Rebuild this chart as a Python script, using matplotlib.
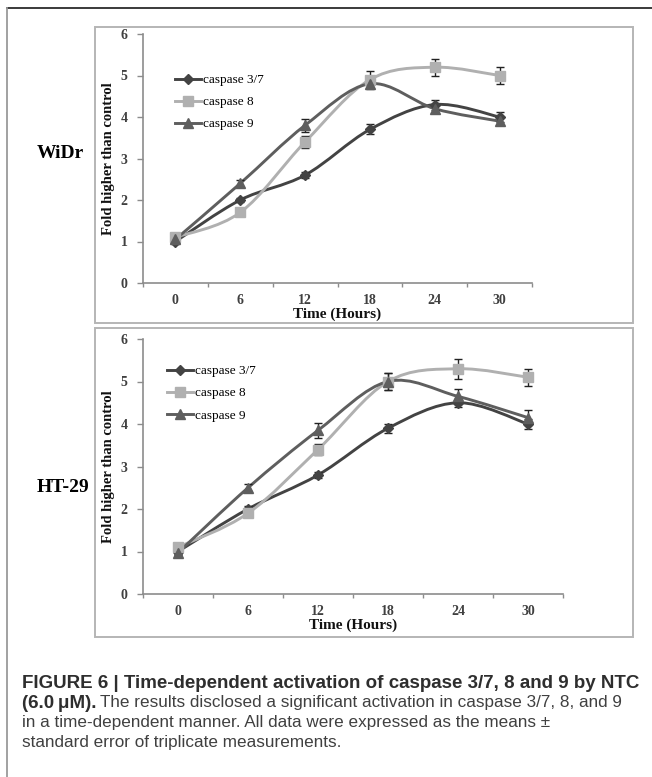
import numpy as np
import matplotlib.pyplot as plt
from matplotlib.path import Path
from matplotlib.patches import PathPatch, Rectangle
from matplotlib.lines import Line2D

# ---- data ----
hours = [0, 6, 12, 18, 24, 30]
series = ["caspase 3/7", "caspase 8", "caspase 9"]

widr_c37 = [1.0, 2.0, 2.6, 3.7, 4.3, 4.0]
widr_c37_err = [0.05, 0.06, 0.07, 0.12, 0.12, 0.12]
widr_c8 = [1.1, 1.7, 3.4, 4.9, 5.2, 5.0]
widr_c8_err = [0.05, 0.06, 0.14, 0.2, 0.2, 0.2]
widr_c9 = [1.05, 2.4, 3.8, 4.8, 4.2, 3.9]
widr_c9_err = [0.05, 0.08, 0.15, 0.12, 0.1, 0.1]

ht29_c37 = [1.0, 2.0, 2.8, 3.9, 4.5, 4.0]
ht29_c37_err = [0.05, 0.06, 0.08, 0.1, 0.1, 0.12]
ht29_c8 = [1.1, 1.9, 3.4, 5.0, 5.3, 5.1]
ht29_c8_err = [0.05, 0.06, 0.13, 0.2, 0.23, 0.2]
ht29_c9 = [0.97, 2.5, 3.85, 5.0, 4.65, 4.15]
ht29_c9_err = [0.05, 0.08, 0.17, 0.2, 0.18, 0.17]

colors = ["#434343", "#b0b0b0", "#5e5e5e"]
markers = ["D", "s", "^"]
msizes = [5, 7, 7.5]

W, H = 652, 777
fig = plt.figure(figsize=(W / 100, H / 100), dpi=100)
serif = "Liberation Serif"
sans = "Liberation Sans"


def px_axes(x0, y0, x1, y1):
    return fig.add_axes([x0 / W, 1 - y1 / H, (x1 - x0) / W, (y1 - y0) / H])


def smooth_path(x, y):
    # excel-like smoothed line: catmull-rom segments as cubic beziers
    pts = np.column_stack([x, y]).astype(float)
    n = len(pts)
    verts = [pts[0]]
    codes = [Path.MOVETO]
    for i in range(n - 1):
        p0 = pts[max(i - 1, 0)]
        p1, p2 = pts[i], pts[i + 1]
        p3 = pts[min(i + 2, n - 1)]
        c1 = p1 + (p2 - p0) / 6
        c2 = p2 - (p3 - p1) / 6
        verts += [c1, c2, p2]
        codes += [Path.CURVE4] * 3
    return Path(verts, codes)


def draw_panel(ax, data, errs, leg_xy):
    for vals, err, c, m, ms in zip(data, errs, colors, markers, msizes):
        ax.add_patch(PathPatch(smooth_path(hours, vals), fill=False,
                               edgecolor=c, lw=2.1, zorder=2))
        ax.errorbar(hours, vals, yerr=err, fmt=m, color=c, ms=ms,
                    ecolor="#222222", elinewidth=1.0, capsize=3, capthick=1.0,
                    zorder=3)
    ax.set_xlim(-3, 33)
    ax.set_ylim(0, 6)
    for s in ["top", "right"]:
        ax.spines[s].set_visible(False)
    for s in ["left", "bottom"]:
        ax.spines[s].set_color("#8c8c8c")
        ax.spines[s].set_linewidth(1.2)
    ax.set_yticks(range(7))
    ax.set_xticks(np.arange(-3, 34, 6))
    ax.set_xticklabels([])
    ax.set_xticks(hours, minor=True)
    ax.set_xticklabels([str(h) for h in hours], minor=True)
    ax.tick_params(axis="x", which="major", direction="out", length=3,
                   color="#8c8c8c", width=1.0)
    ax.tick_params(axis="x", which="minor", length=0, pad=8)
    ax.tick_params(axis="y", direction="out", length=4, color="#8c8c8c",
                   width=1.0, pad=7)
    for lab in ax.get_xticklabels(minor=True) + ax.get_yticklabels():
        lab.set_fontfamily(serif)
        lab.set_fontsize(10)
        lab.set_fontweight("bold")
        lab.set_color("#404040")
    ax.set_xlabel("Time (Hours)", fontfamily=serif, fontweight="bold",
                  fontsize=11, labelpad=0, color="#111111")
    ax.set_ylabel("Fold higher than control", fontfamily=serif,
                  fontweight="bold", fontsize=10.5, labelpad=4, color="#111111")
    ax.patch.set_alpha(0)

    handles = [Line2D([], [], color=c, lw=2.1, marker=m, ms=ms)
               for c, m, ms in zip(colors, markers, msizes)]
    fig.legend(handles, series, loc="upper left",
               bbox_to_anchor=(leg_xy[0] / W, 1 - leg_xy[1] / H),
               frameon=False, prop={"family": serif, "size": 9.5},
               handlelength=2.0, handletextpad=0.15, labelspacing=0.75,
               borderpad=0, borderaxespad=0)


# outer frame lines
fig.add_artist(Line2D([7 / W, 1], [1 - 8 / H] * 2, color="#2b2b2b", lw=1.3))
fig.add_artist(Line2D([7 / W] * 2, [0, 1 - 8 / H], color="#9a9a9a", lw=1.3))

# panel boxes
for y0, y1 in [(27, 323), (328, 637)]:
    fig.add_artist(Rectangle((95 / W, 1 - y1 / H), (633 - 95) / W,
                             (y1 - y0) / H, fill=False, edgecolor="#b5b5b5",
                             lw=1.4))

ax1 = px_axes(143, 34, 532, 283)
draw_panel(ax1, [widr_c37, widr_c8, widr_c9],
           [widr_c37_err, widr_c8_err, widr_c9_err], (175, 74))

ax2 = px_axes(143, 339, 563, 594)
draw_panel(ax2, [ht29_c37, ht29_c8, ht29_c9],
           [ht29_c37_err, ht29_c8_err, ht29_c9_err], (167, 365))

fig.text(60 / W, 1 - 153 / H, "WiDr", family=serif, weight="bold",
         fontsize=14, ha="center", va="center")
fig.text(63 / W, 1 - 487 / H, "HT-29", family=serif, weight="bold",
         fontsize=14, ha="center", va="center")

# caption
bold_color = "#2e2e2e"
reg_color = "#404040"
bold_size = 13.5
reg_size = 12.3
x0 = 22 / W
fig.text(x0, 1 - 683 / H,
         "FIGURE 6 | Time-dependent activation of caspase 3/7, 8 and 9 by NTC",
         family=sans, weight="bold", fontsize=bold_size, color=bold_color,
         va="center")
bold2 = fig.text(x0, 1 - 703 / H, "(6.0\u2009\u03bcM).", family=sans,
                 weight="bold", fontsize=bold_size, color=bold_color,
                 va="center")
fig.canvas.draw()
bb = bold2.get_window_extent()
fig.text((bb.x1 + 4) / W, 1 - 703 / H,
         "The results disclosed a significant activation in caspase 3/7, 8, and 9",
         family=sans, fontsize=reg_size, color=reg_color, va="center")
fig.text(x0, 1 - 722.5 / H,
         "in a time-dependent manner. All data were expressed as the means \u00b1",
         family=sans, fontsize=reg_size, color=reg_color, va="center")
fig.text(x0, 1 - 742 / H, "standard error of triplicate measurements.",
         family=sans, fontsize=reg_size, color=reg_color, va="center")

fig.savefig("out.png", dpi=100)
